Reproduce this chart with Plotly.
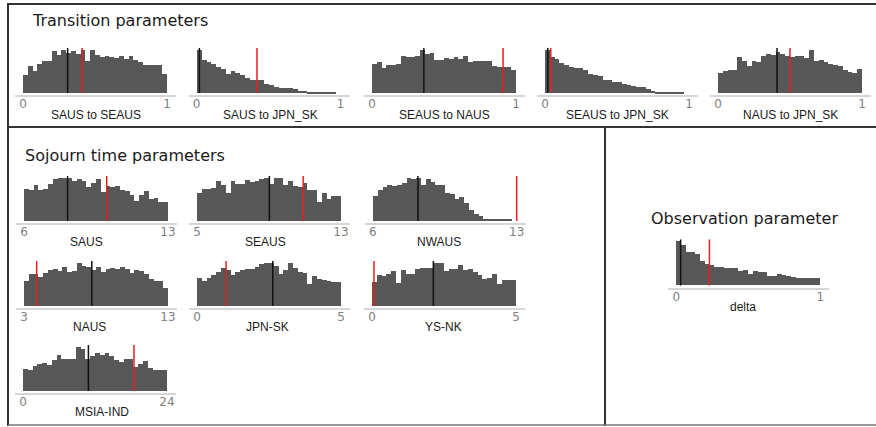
import plotly.graph_objects as go

W, H = 876, 427

# ---- histogram counts (30 equal-width bins over each parameter's range) ----
saus_to_seaus = [55, 82, 68, 88, 97, 97, 127, 115, 128, 120, 125, 118, 128, 97, 130,
                 115, 108, 110, 108, 105, 110, 102, 110, 100, 92, 85, 83, 83, 83, 58]
saus_to_jpn_sk = [133, 103, 97, 88, 80, 73, 60, 67, 62, 55, 48, 40, 40, 40, 28,
                  25, 20, 17, 15, 15, 13, 8, 8, 5, 3, 5, 2, 2, 1, 0]
seaus_to_naus = [88, 92, 75, 85, 85, 86, 112, 109, 109, 110, 130, 118, 120, 100, 100,
                 105, 102, 108, 102, 110, 92, 95, 97, 97, 97, 82, 80, 80, 78, 70]
seaus_to_jpn_sk = [133, 110, 105, 92, 85, 80, 78, 78, 72, 60, 55, 52, 42, 42, 35,
                   33, 27, 25, 22, 20, 18, 12, 8, 5, 5, 3, 3, 2, 1, 0]
naus_to_jpn_sk = [60, 67, 70, 70, 108, 95, 82, 97, 92, 112, 118, 115, 122, 118, 112,
                  108, 110, 112, 105, 130, 95, 98, 92, 88, 85, 82, 70, 65, 62, 72]

saus = [93, 90, 105, 90, 95, 108, 122, 125, 127, 125, 117, 123, 117, 100, 113,
        122, 84, 103, 100, 103, 90, 87, 77, 60, 77, 87, 65, 67, 57, 57]
seaus = [82, 95, 95, 98, 117, 105, 82, 117, 110, 108, 120, 115, 118, 122, 125,
         108, 127, 127, 107, 117, 103, 100, 113, 92, 90, 55, 82, 65, 72, 72]
nwaus = [72, 90, 100, 105, 103, 105, 113, 125, 123, 127, 107, 123, 115, 105, 107,
         83, 80, 65, 70, 52, 33, 20, 15, 6, 5, 5, 5, 3, 6, 0]
naus = [72, 93, 93, 85, 95, 105, 108, 100, 113, 97, 102, 125, 117, 112, 105,
        113, 97, 107, 110, 107, 113, 107, 95, 105, 102, 93, 78, 72, 72, 53]
jpn_sk = [82, 72, 82, 90, 100, 113, 105, 90, 100, 105, 110, 110, 115, 122, 125,
          127, 117, 93, 107, 125, 113, 100, 97, 65, 87, 80, 75, 72, 70, 70]
ys_nk = [70, 90, 88, 95, 102, 67, 105, 95, 93, 108, 113, 113, 113, 125, 127,
         102, 108, 108, 120, 107, 108, 100, 90, 80, 82, 93, 65, 75, 75, 75]
msia_ind = [63, 59, 72, 78, 80, 75, 90, 102, 92, 93, 93, 127, 120, 93, 100,
            108, 103, 110, 100, 88, 82, 93, 92, 70, 78, 87, 65, 60, 60, 59]

delta = [132, 120, 100, 98, 94, 72, 63, 59, 54, 53, 52, 50, 50, 42, 45,
         32, 42, 40, 39, 28, 28, 32, 30, 27, 25, 22, 20, 20, 20, 20]

# ---- panel names, ranges and marker values ----
labels = ["SAUS to SEAUS", "SAUS to JPN_SK", "SEAUS to NAUS", "SEAUS to JPN_SK",
          "NAUS to JPN_SK", "SAUS", "SEAUS", "NWAUS", "NAUS", "JPN-SK", "YS-NK",
          "MSIA-IND", "delta"]
counts = [saus_to_seaus, saus_to_jpn_sk, seaus_to_naus, seaus_to_jpn_sk,
          naus_to_jpn_sk, saus, seaus, nwaus, naus, jpn_sk, ys_nk, msia_ind, delta]
range_lo = [0, 0, 0, 0, 0, 6, 5, 6, 3, 0, 0, 0, 0]
range_hi = [1, 1, 1, 1, 1, 13, 13, 13, 13, 5, 5, 24, 1]
mark_black = [0.31, 0.02, 0.36, 0.02, 0.41, 8.12, 9.02, 8.2, 7.71, 2.63, 2.13, 10.9, 0.03]
mark_red = [0.41, 0.42, 0.91, 0.04, 0.50, 10.02, 10.9, 13.0, 3.88, 1.01, 0.07, 18.5, 0.23]

# ---- panel placement in pixels: left edge of data range, axis line y, top y,
#      and the centre of the name label ----
BAR_W = 144
place = [
    (23, 95, 47.7, 95.8, 115), (196.5, 95, 47.7, 270.5, 115),
    (372, 95, 47.7, 444.3, 115), (545, 95, 47.7, 617.5, 115),
    (718, 95, 47.7, 790.8, 115),
    (24, 223, 176, 86.3, 241.7), (197, 223, 176, 265.3, 241.7),
    (372.7, 223, 176, 439, 241.7),
    (24, 308, 261, 89, 326.7), (197, 308, 261, 267, 326.7),
    (372, 308, 261, 443, 326.7),
    (23, 393, 345, 101.7, 411.7),
    (676.3, 287.5, 239.3, 743, 306.7),
]

BAR_COLOR = "#575757"
fig = go.Figure()
layout_axes = {}
annotations = []

for i, lab in enumerate(labels):
    n = i + 1
    xa = "x" if n == 1 else f"x{n}"
    ya = "y" if n == 1 else f"y{n}"
    c = counts[i]
    lo, hi = range_lo[i], range_hi[i]
    span = hi - lo
    bw = span / len(c)
    centers = [lo + bw * (k + 0.5) for k in range(len(c))]
    top = max(c) * 1.04
    x0, ay, ty, lx, ly = place[i]

    fig.add_trace(go.Bar(x=centers, y=c, width=bw, marker=dict(color=BAR_COLOR, line=dict(width=0)),
                         xaxis=xa, yaxis=ya, hoverinfo="skip"))
    for v, col in ((mark_black[i], "#111111"), (mark_red[i], "#ee1c1c")):
        fig.add_trace(go.Scatter(x=[v, v], y=[0, top], mode="lines",
                                 line=dict(color=col, width=1.5),
                                 xaxis=xa, yaxis=ya, hoverinfo="skip"))

    pad_l, pad_r = 8, 9
    dom_l = (x0 - pad_l) / W
    dom_r = (x0 + BAR_W + pad_r) / W
    hpx = ay - ty
    ymin = -2.0 * top / (hpx - 2.0)
    layout_axes["xaxis" if n == 1 else f"xaxis{n}"] = dict(
        domain=[dom_l, dom_r],
        range=[lo - pad_l / BAR_W * span, hi + pad_r / BAR_W * span],
        anchor=ya, showline=True, linecolor="#d6d6d6", linewidth=2,
        showgrid=False, zeroline=False, ticks="",
        tickvals=[lo, hi], ticktext=[str(lo), str(hi)],
        tickfont=dict(family="DejaVu Sans", size=12, color="#808080"),
        ticklabelstandoff=-3,
        fixedrange=True,
    )
    layout_axes["yaxis" if n == 1 else f"yaxis{n}"] = dict(
        domain=[1 - ay / H, 1 - ty / H], range=[ymin, top], anchor=xa,
        visible=False, fixedrange=True,
    )
    annotations.append(dict(x=lx / W, y=1 - ly / H, xref="paper", yref="paper",
                            text=lab, showarrow=False, xanchor="center", yanchor="middle",
                            font=dict(family="Liberation Sans", size=12, color="#1a1a1a")))

# section headings
for text, x, y, anchor in (("Transition parameters", 30, 20, "left"),
                           ("Sojourn time parameters", 23, 156, "left"),
                           ("Observation parameter", 744.5, 218, "center")):
    annotations.append(dict(x=x / W, y=1 - y / H, xref="paper", yref="paper", text=text,
                            showarrow=False, xanchor=anchor, yanchor="middle",
                            font=dict(family="DejaVu Sans", size=16, color="#1a1a1a")))

# frame lines around the three sections
def seg(x0, y0, x1, y1, color="#333333", width=2):
    return dict(type="line", xref="paper", yref="paper",
                x0=x0 / W, y0=1 - y0 / H, x1=x1 / W, y1=1 - y1 / H,
                line=dict(color=color, width=width))

shapes = [
    seg(8, 4, 880, 4),
    seg(8, 3, 8, 426),
    seg(8, 127, 880, 127),
    seg(605, 127, 605, 426),
    seg(8, 425, 880, 425, color="#777777", width=1.5),
]

fig.update_layout(
    width=W, height=H, margin=dict(l=0, r=0, t=0, b=0),
    paper_bgcolor="white", plot_bgcolor="white",
    showlegend=False, bargap=0,
    annotations=annotations, shapes=shapes,
    **layout_axes,
)

fig.write_html("out.html")
